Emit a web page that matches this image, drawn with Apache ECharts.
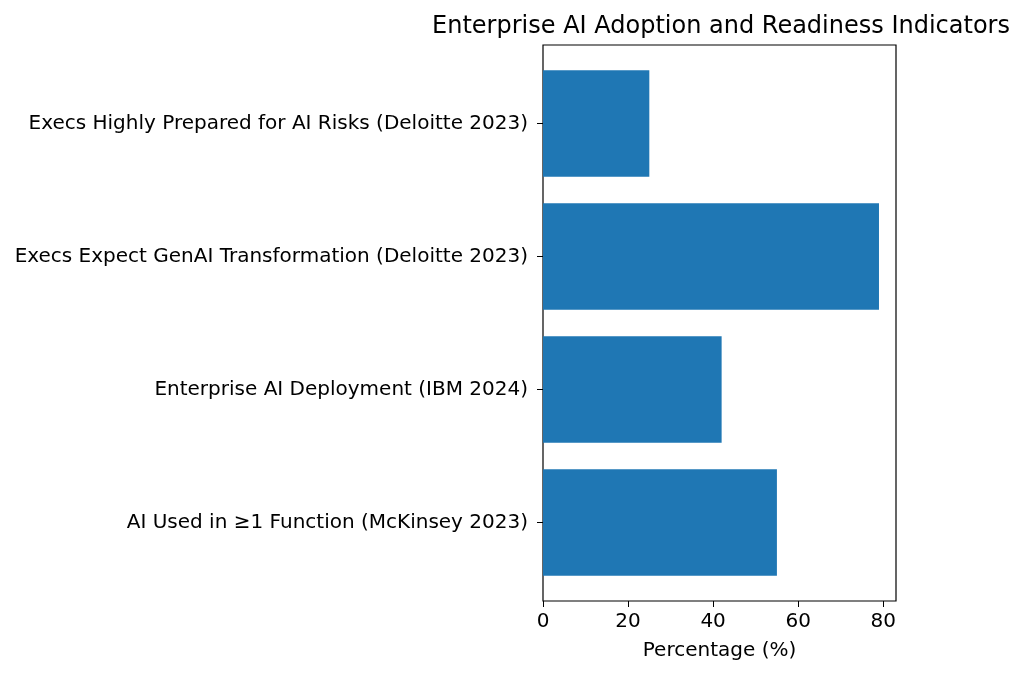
<!DOCTYPE html>
<html>
<head>
<meta charset="utf-8">
<script src="https://cdn.jsdelivr.net/npm/echarts@6/dist/echarts.min.js"></script>
<style>
  html, body { margin: 0; padding: 0; background: #fff; }
  #chart { width: 1024px; height: 677px; }
</style>
</head>
<body>
<div id="chart"></div>
<script>
// Données (de bas en haut)
const categories = [
    'AI Used in ≥1 Function (McKinsey 2023)',
    'Enterprise AI Deployment (IBM 2024)',
    'Execs Expect GenAI Transformation (Deloitte 2023)',
    'Execs Highly Prepared for AI Risks (Deloitte 2023)'
];
const percentages = [55, 42, 79, 25];
const xTicks = [0, 20, 40, 60, 80];

const FONT = 'DejaVu Sans';
const xMax = 83;

const dom = document.getElementById('chart');
const myChart = echarts.init(dom, null, { renderer: 'canvas' });

myChart.setOption({
    animation: false,
    backgroundColor: '#fff',
    title: {
        text: 'Enterprise AI Adoption and Readiness Indicators',
        left: 716,
        top: 10,
        textAlign: 'center',
        textStyle: { fontFamily: FONT, fontSize: 24, fontWeight: 'normal', color: '#000' }
    },
    grid: [
        // grille des barres (bandes de 133 px comme matplotlib)
        { left: 543, right: 128, top: 57, bottom: 88, containLabel: false },
        // cadre + axe des x
        { left: 543, right: 128, top: 45, bottom: 76, containLabel: false,
          show: true, borderColor: '#000', borderWidth: 1.2, backgroundColor: 'transparent' }
    ],
    xAxis: [
        { type: 'value', gridIndex: 0, min: 0, max: xMax, show: false },
        {
            type: 'value', gridIndex: 1, min: 0, max: xMax, interval: 20,
            name: 'Percentage (%)', nameLocation: 'middle', nameGap: 40,
            nameTextStyle: { fontFamily: FONT, fontSize: 20, color: '#000' },
            axisLine: { show: false },
            axisTick: { show: true, length: 6, customValues: xTicks, lineStyle: { color: '#000' } },
            axisLabel: {
                fontFamily: FONT, fontSize: 20, color: '#000', margin: 11,
                customValues: xTicks
            },
            splitLine: { show: false }
        }
    ],
    yAxis: [
        {
            type: 'category', gridIndex: 0, data: categories,
            axisLine: { show: false },
            axisTick: { show: true, alignWithLabel: true, length: 6, lineStyle: { color: '#000' } },
            axisLabel: { fontFamily: FONT, fontSize: 20, color: '#000', margin: 15 }
        },
        { type: 'value', gridIndex: 1, min: 0, max: 1, show: false }
    ],
    series: [
        {
            type: 'bar',
            xAxisIndex: 0,
            yAxisIndex: 0,
            data: percentages,
            barWidth: '80%',
            itemStyle: { color: '#1f77b4' }
        }
    ]
});
</script>
</body>
</html>
